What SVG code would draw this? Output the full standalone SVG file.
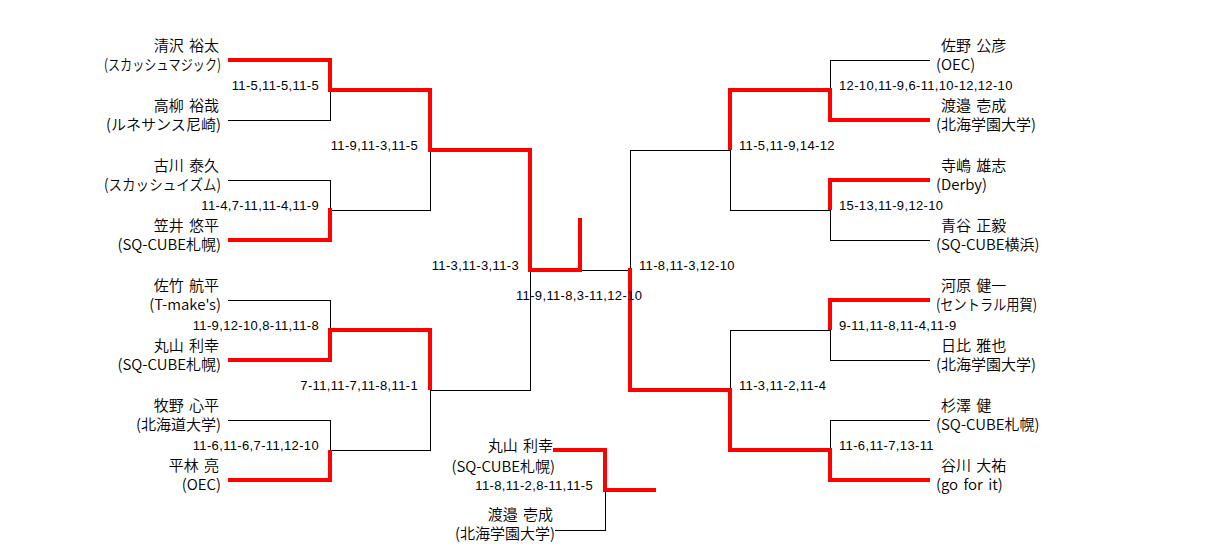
<svg xmlns="http://www.w3.org/2000/svg" width="1210" height="560" viewBox="0 0 1210 560">
<style>
.nm{font-family:"Noto Sans CJK JP","Noto Sans",sans-serif;font-size:15px;font-weight:350;fill:#000;word-spacing:2px}
.l{text-anchor:end}
.sc{font-family:"Liberation Sans",Arial,sans-serif;font-size:13px;letter-spacing:0.35px;fill:#000}
.e{text-anchor:end}
.thin{fill:none;stroke:#000;stroke-width:1;shape-rendering:crispEdges}
.win{fill:none;stroke:#f00;stroke-width:4;stroke-linejoin:miter;stroke-linecap:butt}
</style>
<rect width="1210" height="560" fill="#fff"/>
<g id="connectors">
<polyline class="thin" points="228,60 330,60 330,120 228,120"/>
<polyline class="thin" points="228,180 330,180 330,240 228,240"/>
<polyline class="thin" points="330,90 430,90 430,210 330,210"/>
<polyline class="thin" points="228,300 330,300 330,360 228,360"/>
<polyline class="thin" points="228,420 330,420 330,480 228,480"/>
<polyline class="thin" points="330,330 430,330 430,450 330,450"/>
<polyline class="thin" points="430,150 530,150 530,390 430,390"/>
<polyline class="thin" points="530,270 630,270"/>
<polyline class="thin" points="730,150 630,150 630,390 730,390"/>
<polyline class="thin" points="830,90 730,90 730,210 830,210"/>
<polyline class="thin" points="930,60 830,60 830,120 930,120"/>
<polyline class="thin" points="930,180 830,180 830,240 930,240"/>
<polyline class="thin" points="830,330 730,330 730,450 830,450"/>
<polyline class="thin" points="930,300 830,300 830,360 930,360"/>
<polyline class="thin" points="930,420 830,420 830,480 930,480"/>
<polyline class="thin" points="553,450 605,450 605,530 555,530"/>
<polyline class="thin" points="605,490 656,490"/>
<polyline class="win" points="228,60 330,60 330,90 430,90 430,150 530,150 530,270 580,270 580,218"/>
<polyline class="win" points="228,240 330,240 330,208"/>
<polyline class="win" points="228,360 330,360 330,330 430,330 430,390"/>
<polyline class="win" points="228,480 330,480 330,450"/>
<polyline class="win" points="930,120 830,120 830,90 730,90 730,150"/>
<polyline class="win" points="930,180 830,180 830,210"/>
<polyline class="win" points="930,300 830,300 830,330"/>
<polyline class="win" points="930,480 830,480 830,450 730,450 730,390 630,390 630,268"/>
<polyline class="win" points="553,450 605,450 605,490 656,490"/>
</g>
<g id="scores">
<text class="sc e" x="319" y="90">11-5,11-5,11-5</text>
<text class="sc e" x="319" y="210">11-4,7-11,11-4,11-9</text>
<text class="sc e" x="319" y="330">11-9,12-10,8-11,11-8</text>
<text class="sc e" x="319" y="450">11-6,11-6,7-11,12-10</text>
<text class="sc e" x="418" y="150">11-9,11-3,11-5</text>
<text class="sc e" x="418" y="390">7-11,11-7,11-8,11-1</text>
<text class="sc e" x="519" y="270">11-3,11-3,11-3</text>
<text class="sc" x="639" y="270">11-8,11-3,12-10</text>
<text class="sc" x="516" y="300">11-9,11-8,3-11,12-10</text>
<text class="sc" x="739" y="150">11-5,11-9,14-12</text>
<text class="sc" x="739" y="390">11-3,11-2,11-4</text>
<text class="sc" x="839" y="90">12-10,11-9,6-11,10-12,12-10</text>
<text class="sc" x="839" y="210">15-13,11-9,12-10</text>
<text class="sc" x="839" y="330">9-11,11-8,11-4,11-9</text>
<text class="sc" x="839" y="450">11-6,11-7,13-11</text>
<text class="sc e" x="593" y="490">11-8,11-2,8-11,11-5</text>
</g>
<g id="p-kiyosawa"><text class="nm l" x="219" y="50.5">清沢 裕太</text><text class="nm l" x="221" y="70" textLength="117" lengthAdjust="spacingAndGlyphs">(スカッシュマジック)</text></g>
<g id="p-takayanagi"><text class="nm l" x="219" y="110.5">高柳 裕哉</text><text class="nm l" x="221" y="130" textLength="115" lengthAdjust="spacingAndGlyphs">(ルネサンス尼崎)</text></g>
<g id="p-furukawa"><text class="nm l" x="219" y="170.5">古川 泰久</text><text class="nm l" x="221" y="190" textLength="117" lengthAdjust="spacingAndGlyphs">(スカッシュイズム)</text></g>
<g id="p-kasai"><text class="nm l" x="219" y="230.5">笠井 悠平</text><text class="nm l" x="221" y="250">(SQ-CUBE札幌)</text></g>
<g id="p-satake"><text class="nm l" x="219" y="290.5">佐竹 航平</text><text class="nm l" x="221" y="310">(T-make's)</text></g>
<g id="p-maruyama"><text class="nm l" x="219" y="350.5">丸山 利幸</text><text class="nm l" x="221" y="370">(SQ-CUBE札幌)</text></g>
<g id="p-makino"><text class="nm l" x="219" y="410.5">牧野 心平</text><text class="nm l" x="221" y="430">(北海道大学)</text></g>
<g id="p-hirabayashi"><text class="nm l" x="219" y="470.5">平林 亮</text><text class="nm l" x="221" y="490">(OEC)</text></g>
<g id="p-sano"><text class="nm" x="941" y="50.5">佐野 公彦</text><text class="nm" x="936" y="70">(OEC)</text></g>
<g id="p-watanabe"><text class="nm" x="941" y="110.5">渡邉 壱成</text><text class="nm" x="936" y="130">(北海学園大学)</text></g>
<g id="p-terashima"><text class="nm" x="941" y="170.5">寺嶋 雄志</text><text class="nm" x="936" y="190">(Derby)</text></g>
<g id="p-aoya"><text class="nm" x="941" y="230.5">青谷 正毅</text><text class="nm" x="936" y="250">(SQ-CUBE横浜)</text></g>
<g id="p-kawahara"><text class="nm" x="941" y="290.5">河原 健一</text><text class="nm" x="936" y="310" textLength="101" lengthAdjust="spacingAndGlyphs">(セントラル用賀)</text></g>
<g id="p-hibi"><text class="nm" x="941" y="350.5">日比 雅也</text><text class="nm" x="936" y="370">(北海学園大学)</text></g>
<g id="p-sugisawa"><text class="nm" x="941" y="410.5">杉澤 健</text><text class="nm" x="936" y="430">(SQ-CUBE札幌)</text></g>
<g id="p-tanigawa"><text class="nm" x="941" y="470.5">谷川 大祐</text><text class="nm" x="936" y="490">(go for it)</text></g>
<g id="p3-maruyama"><text class="nm l" x="553" y="450.5">丸山 利幸</text><text class="nm l" x="555" y="471.5">(SQ-CUBE札幌)</text></g>
<g id="p3-watanabe"><text class="nm l" x="553" y="520">渡邉 壱成</text><text class="nm l" x="555" y="539">(北海学園大学)</text></g>
</svg>
